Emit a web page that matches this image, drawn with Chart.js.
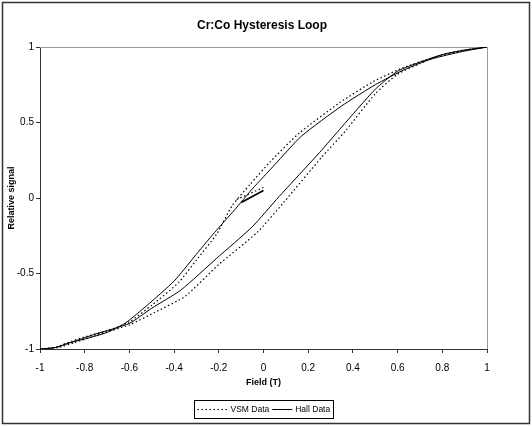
<!DOCTYPE html>
<html>
<head>
<meta charset="utf-8">
<script src="https://cdn.jsdelivr.net/npm/chart.js@4.4.0/dist/chart.umd.min.js"></script>
<style>
  html, body { margin: 0; padding: 0; background: #fff; }
  canvas { display: block; }
</style>
</head>
<body>
<canvas id="c" width="532" height="426"></canvas>
<script>
// ---- data ----
const chartTitle = "Cr:Co Hysteresis Loop";
const xTitle = "Field (T)";
const yTitle = "Relative signal";
const seriesLabels = ["VSM Data", "Hall Data"];
const xTicks = [-1, -0.8, -0.6, -0.4, -0.2, 0, 0.2, 0.4, 0.6, 0.8, 1];
const yTicks = [-1, -0.5, 0, 0.5, 1];

// Hall data (solid): ascending branch then descending branch
const hallX = [-1, -0.93, -0.85, -0.75, -0.6, -0.5, -0.37, -0.21, -0.05, 0.07, 0.25, 0.35, 0.5, 0.6, 0.7, 0.8, 0.9, 1,
               0.89, 0.75, 0.63, 0.5, 0.35, 0.17, 0.05, -0.05, -0.13, -0.22, -0.31, -0.4, -0.52, -0.62, -0.7, -0.79, -0.87, -0.93, -1];
const hallY = [-1, -0.99, -0.95, -0.9, -0.83, -0.73, -0.61, -0.4, -0.19, 0.01, 0.3, 0.47, 0.72, 0.84, 0.9, 0.95, 0.98, 1,
               0.97, 0.92, 0.85, 0.75, 0.61, 0.41, 0.22, 0.06, -0.08, -0.23, -0.39, -0.55, -0.71, -0.83, -0.89, -0.93, -0.96, -0.99, -1];
// Hall minor segment near zero
const hallMinorX = [-0.1, -0.05, 0];
const hallMinorY = [-0.03, 0.01, 0.05];

// VSM data (dotted)
const vsmX = [-1, -0.92, -0.85, -0.75, -0.6, -0.49, -0.35, -0.2, -0.03, 0.09, 0.26, 0.37, 0.5, 0.6, 0.7, 0.8, 0.9, 1,
              0.89, 0.75, 0.62, 0.49, 0.34, 0.16, 0.03, -0.06, -0.14, -0.21, -0.3, -0.38, -0.5, -0.6, -0.7, -0.8, -0.88, -0.93, -1];
const vsmY = [-1, -0.99, -0.96, -0.91, -0.84, -0.76, -0.65, -0.44, -0.23, -0.03, 0.27, 0.45, 0.69, 0.82, 0.89, 0.95, 0.98, 1,
              0.975, 0.925, 0.86, 0.77, 0.63, 0.43, 0.24, 0.09, -0.05, -0.24, -0.41, -0.56, -0.71, -0.82, -0.88, -0.92, -0.96, -0.99, -1];
const vsmMinorX = [-0.12, -0.06, 0];
const vsmMinorY = [-0.01, 0.03, 0.07];

const pts = (xs, ys) => xs.map((x, i) => ({ x: x, y: ys[i] }));
const FONT = "'Liberation Sans', Arial, sans-serif";
const DOT = [1.5, 2.5];

const frame = {
  id: 'frame',
  beforeDatasetsDraw(chart) {
    const { ctx, chartArea: a } = chart;
    ctx.save();
    ctx.strokeStyle = '#999';
    ctx.lineWidth = 1;
    ctx.beginPath();
    ctx.moveTo(a.left, a.top + 0.5);
    ctx.lineTo(a.right + 0.5, a.top + 0.5);
    ctx.lineTo(a.right + 0.5, a.bottom);
    ctx.stroke();
    ctx.restore();
  },
  afterDraw(chart) {
    const ctx = chart.ctx;
    ctx.save();
    // outer border
    ctx.strokeStyle = '#333';
    ctx.lineWidth = 1.5;
    ctx.strokeRect(2.5, 2.5, 527, 421);
    // legend
    ctx.font = "8.5px " + FONT;
    const w1 = ctx.measureText(seriesLabels[0]).width;
    const w2 = ctx.measureText(seriesLabels[1]).width;
    const pad = 3, gap = 3, l1 = 30, l2 = 20;
    const bw = pad + l1 + gap + w1 + gap + l2 + gap + w2 + pad;
    const bh = 18;
    const bx = Math.round(263 - bw / 2) + 0.5, by = 400.5;
    ctx.lineWidth = 1;
    ctx.strokeStyle = '#000';
    ctx.strokeRect(bx, by, Math.round(bw), bh);
    const cy = by + bh / 2;
    const ds = chart.data.datasets;
    ctx.fillStyle = '#000';
    ctx.textBaseline = 'middle';
    let x = bx + pad;
    ctx.setLineDash(ds[0].borderDash);
    ctx.beginPath(); ctx.moveTo(x, cy); ctx.lineTo(x + l1, cy); ctx.stroke();
    ctx.setLineDash([]);
    x += l1 + gap;
    ctx.fillText(seriesLabels[0], x, cy + 0.5);
    x += w1 + gap;
    ctx.beginPath(); ctx.moveTo(x, cy); ctx.lineTo(x + l2, cy); ctx.stroke();
    x += l2 + gap;
    ctx.fillText(seriesLabels[1], x, cy + 0.5);
    ctx.restore();
  }
};

new Chart(document.getElementById('c'), {
  type: 'scatter',
  data: {
    datasets: [
      { label: seriesLabels[0], data: pts(vsmX, vsmY), showLine: true, borderColor: '#000', borderWidth: 1.2, borderDash: DOT, pointRadius: 0, tension: 0.2 },
      { label: seriesLabels[0], data: pts(vsmMinorX, vsmMinorY), showLine: true, borderColor: '#000', borderWidth: 1.2, borderDash: DOT, pointRadius: 0 },
      { label: seriesLabels[1], data: pts(hallX, hallY), showLine: true, borderColor: '#000', borderWidth: 1, pointRadius: 0, tension: 0.2 },
      { label: seriesLabels[1], data: pts(hallMinorX, hallMinorY), showLine: true, borderColor: '#000', borderWidth: 1.6, pointRadius: 0 }
    ]
  },
  options: {
    responsive: false,
    animation: false,
    devicePixelRatio: 1,
    layout: { padding: { left: 0, right: 8, top: 0, bottom: 33 } },
    plugins: {
      legend: { display: false },
      tooltip: { enabled: false },
      title: {
        display: true, text: chartTitle, color: '#000',
        font: { family: FONT, size: 12, weight: 'bold' },
        padding: { top: 18, bottom: 14.6 }
      }
    },
    scales: {
      x: {
        type: 'linear', min: -1, max: 1,
        afterBuildTicks: s => { s.ticks = xTicks.map(v => ({ value: v })); },
        afterFit: s => { s.height = 44; },
        ticks: { color: '#000', font: { family: FONT, size: 10 }, padding: 9, maxRotation: 0, autoSkip: false, callback: v => String(v) },
        grid: { drawOnChartArea: false, drawTicks: true, tickLength: 4, color: '#333' },
        border: { color: '#333', width: 1 },
        title: { display: true, text: xTitle, color: '#000', font: { family: FONT, size: 9, weight: 'bold' }, padding: { top: 0, bottom: 4.6 } }
      },
      y: {
        type: 'linear', min: -1, max: 1,
        afterBuildTicks: s => { s.ticks = yTicks.map(v => ({ value: v })); },
        afterFit: s => { s.width = 40; },
        ticks: { color: '#000', font: { family: FONT, size: 10 }, padding: 2, autoSkip: false, callback: v => String(v) },
        grid: { drawOnChartArea: false, drawTicks: true, tickLength: 4, color: '#333' },
        border: { color: '#333', width: 1 },
        title: { display: true, text: yTitle, color: '#000', font: { family: FONT, size: 9, weight: 'bold' }, padding: { top: 6.6, bottom: 0 } }
      },
      y2: {
        type: 'linear', position: 'right', min: -1, max: 1,
        afterFit: s => { s.width = 37; },
        ticks: { display: false },
        grid: { display: false },
        border: { display: false }
      }
    }
  },
  plugins: [frame]
});
</script>
</body>
</html>
